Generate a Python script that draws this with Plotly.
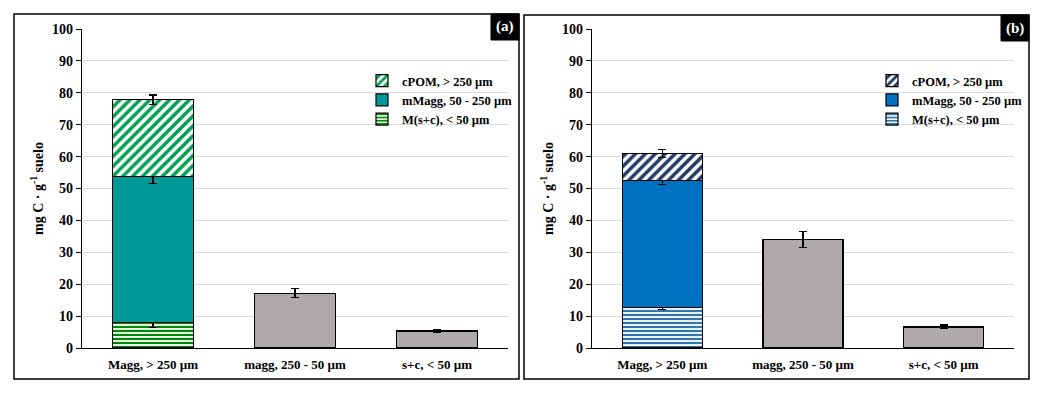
import plotly.graph_objects as go

# Categories on the x axis
categories = ["Magg, > 250 µm", "magg, 250 - 50 µm", "s+c, < 50 µm"]
fraction_names = ["M(s+c), < 50 µm", "mMagg, 50 - 250 µm", "cPOM, > 250 µm"]

# Panel (a) values (mg C g-1 soil)
a_msc = [7.9]
a_msc_err = [1.5]
a_mmagg = [45.9]
a_mmagg_err = [2.1]
a_cpom = [24.0]
a_cpom_err = [1.5]
a_rest = [17.2, 5.3]
a_rest_err = [1.5, 0.4]

# Panel (b) values
b_msc = [12.8]
b_msc_err = [0.7]
b_mmagg = [39.7]
b_mmagg_err = [1.2]
b_cpom = [8.5]
b_cpom_err = [1.2]
b_rest = [34.0, 6.6]
b_rest_err = [2.5, 0.6]

# page body has an 8px margin, so the figure is placed 8px in
OFF = 8
W, H = 1042 - 2 * OFF, 394 - 2 * OFF
FONT = "Liberation Serif, Times New Roman, serif"
GRAY = "#AEAAAA"


def px(x):
    return (x - OFF) / W


def py(y):
    return 1 - (y - OFF) / H


panels = {
    "a": dict(
        msc=a_msc, msc_err=a_msc_err, mmagg=a_mmagg, mmagg_err=a_mmagg_err,
        cpom=a_cpom, cpom_err=a_cpom_err, rest=a_rest, rest_err=a_rest_err,
        stripe="#008A00", solid="#009999", diag="#00A050",
        xdom=(82, 508), box=(14, 519, 14, 379), legx=362, ytitle=37,
    ),
    "b": dict(
        msc=b_msc, msc_err=b_msc_err, mmagg=b_mmagg, mmagg_err=b_mmagg_err,
        cpom=b_cpom, cpom_err=b_cpom_err, rest=b_rest, rest_err=b_rest_err,
        stripe="#2E75B6", solid="#0070C0", diag="#1F3864",
        xdom=(592, 1014), box=(524, 1029, 15, 379), legx=872, ytitle=547,
    ),
}

fig = go.Figure()
y_dom = (py(348), py(29))


def err(vals):
    return dict(type="data", array=vals, color="black", thickness=1.1, width=4)


for i, (key, p) in enumerate(panels.items()):
    sfx = "" if i == 0 else str(i + 1)
    xa, ya = "x" + sfx, "y" + sfx
    leg = "legend" + sfx

    fig.add_trace(go.Bar(
        x=categories[:1], y=p["msc"], name=fraction_names[0], xaxis=xa, yaxis=ya,
        legend=leg, legendrank=3, width=0.57, error_y=err(p["msc_err"]),
        marker=dict(color="white", line=dict(color="black", width=1.2),
                    pattern=dict(shape="-", fgcolor=p["stripe"], bgcolor="white",
                                 fgopacity=1, size=4, solidity=0.55)),
    ))
    fig.add_trace(go.Bar(
        x=categories[:1], y=p["mmagg"], name=fraction_names[1], xaxis=xa, yaxis=ya,
        legend=leg, legendrank=2, width=0.57, error_y=err(p["mmagg_err"]),
        marker=dict(color=p["solid"], line=dict(color="black", width=1.2)),
    ))
    fig.add_trace(go.Bar(
        x=categories[:1], y=p["cpom"], name=fraction_names[2], xaxis=xa, yaxis=ya,
        legend=leg, legendrank=1, width=0.57, error_y=err(p["cpom_err"]),
        marker=dict(color="white", line=dict(color="black", width=1.2),
                    pattern=dict(shape="/", fgcolor=p["diag"], bgcolor="white",
                                 fgopacity=1, size=7, solidity=0.5)),
    ))
    fig.add_trace(go.Bar(
        x=categories[1:], y=p["rest"], xaxis=xa, yaxis=ya, showlegend=False,
        width=0.57, error_y=err(p["rest_err"]),
        marker=dict(color=GRAY, line=dict(color="black", width=1.2)),
    ))

    x0, x1 = p["xdom"]
    fig.layout["xaxis" + sfx] = dict(
        domain=[px(x0), px(x1)], anchor=ya, range=[-0.5, 2.5],
        showline=True, linecolor="black", linewidth=1.2, ticks="",
        ticklabelstandoff=4,
        tickfont=dict(family=FONT, size=13, color="black", weight="bold"),
        fixedrange=True,
    )
    fig.layout["yaxis" + sfx] = dict(
        domain=list(y_dom), anchor=xa, range=[0, 100], dtick=10,
        showline=True, linecolor="black", linewidth=1.2,
        ticks="outside", ticklen=5, tickcolor="black", tickwidth=1,
        showgrid=True, gridcolor="#D9D9D9", gridwidth=1, zeroline=False,
        tickfont=dict(family=FONT, size=14, color="black", weight="bold"),
    )
    fig.layout[leg] = dict(
        x=px(p["legx"]), y=py(66), xanchor="left", yanchor="top",
        bgcolor="rgba(0,0,0,0)", traceorder="normal",
        font=dict(family=FONT, size=12.5, color="black", weight="bold"),
        itemwidth=30, tracegroupgap=0,
    )

    bx0, bx1, by0, by1 = p["box"]
    fig.add_shape(type="rect", xref="paper", yref="paper",
                  x0=px(bx0), x1=px(bx1), y0=py(by1), y1=py(by0),
                  line=dict(color="black", width=1.5))
    fig.add_shape(type="rect", xref="paper", yref="paper",
                  x0=px(bx1 - 28), x1=px(bx1), y0=py(by0 + 26), y1=py(by0),
                  line=dict(color="black", width=1), fillcolor="black")
    fig.add_annotation(x=px(bx1 - 14), y=py(by0 + 13), xref="paper", yref="paper",
                       xanchor="center", yanchor="middle",
                       text=f"({key})", showarrow=False,
                       font=dict(family=FONT, size=15, color="white", weight="bold"))
    fig.add_annotation(x=px(p["ytitle"]), y=py(189), xref="paper", yref="paper",
                       xanchor="center", yanchor="middle",
                       text="mg C · g<sup>-1</sup> suelo", textangle=-90, showarrow=False,
                       font=dict(family=FONT, size=14, color="black", weight="bold"))

fig.update_layout(
    width=W, height=H, barmode="stack", bargap=0.43,
    margin=dict(l=0, r=0, t=0, b=0, autoexpand=False),
    paper_bgcolor="white", plot_bgcolor="white",
    font=dict(family=FONT, color="black"),
)

fig.write_html("out.html")
